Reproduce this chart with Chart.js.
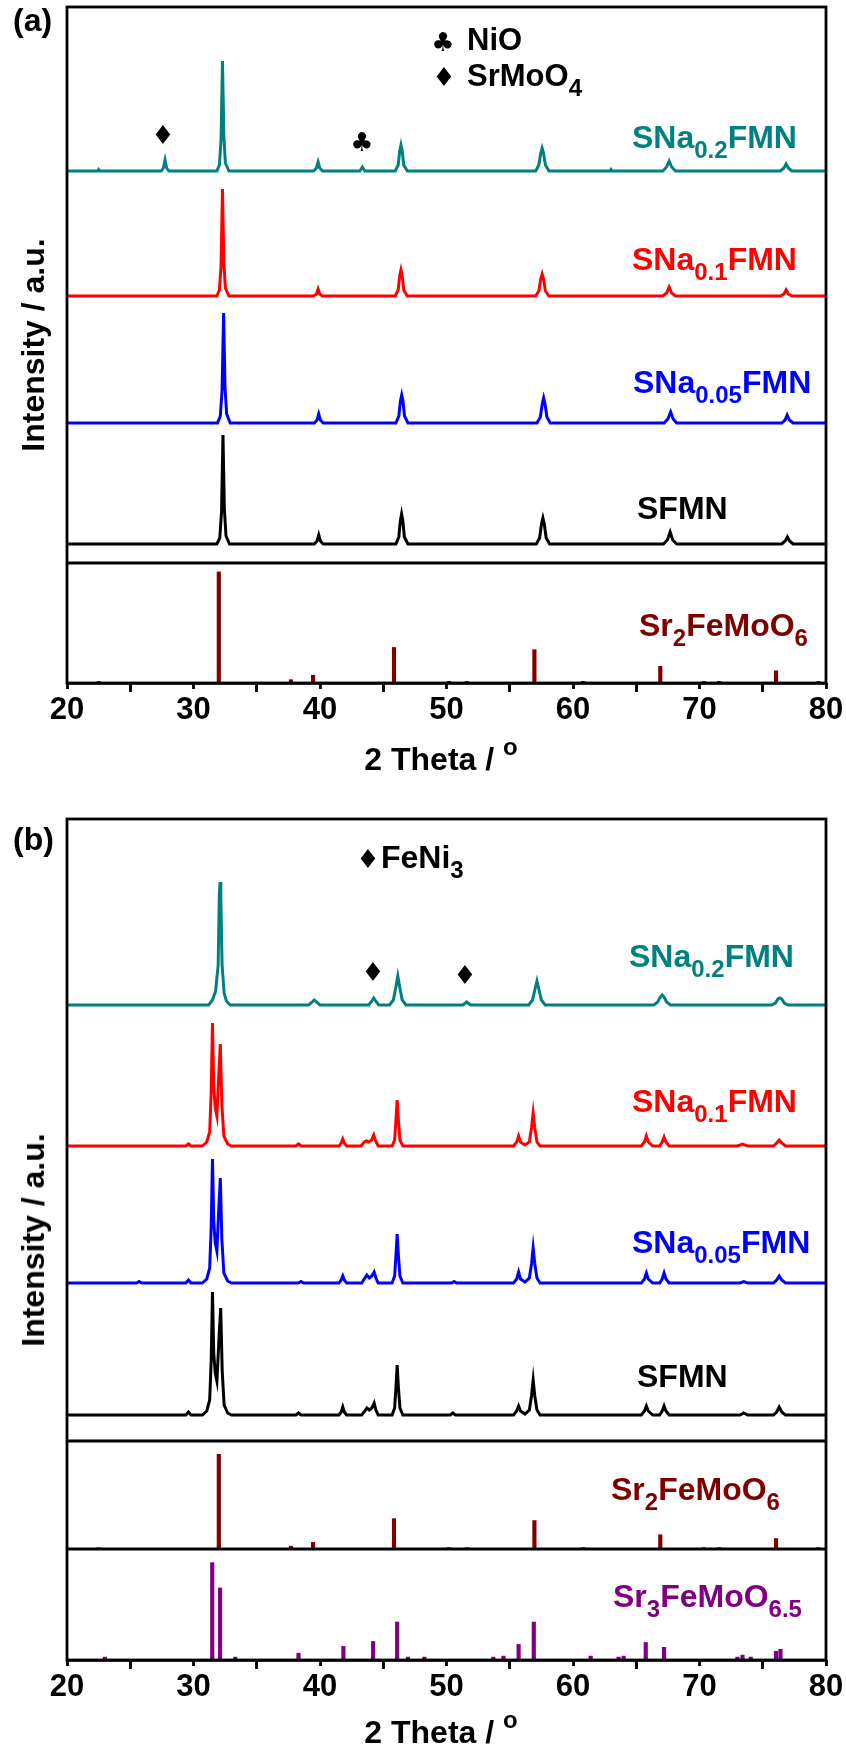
<!DOCTYPE html>
<html>
<head>
<meta charset="utf-8">
<script src="https://cdn.jsdelivr.net/npm/chart.js@4.4.1/dist/chart.umd.min.js"></script>
<style>
  html, body { margin:0; padding:0; background:#fff; }
  #wrap { position:relative; width:846px; height:1751px; background:#fff; overflow:hidden; }
  .cv { position:absolute; left:0; }
  .t { position:absolute; font-family:'Liberation Sans', Arial, sans-serif; font-weight:bold; font-size:32px; line-height:1; white-space:nowrap; z-index:2; }
  .t sub { font-size:24px; vertical-align:baseline; position:relative; top:10px; }
  .t sup { font-size:24px; vertical-align:baseline; position:relative; top:-15px; }
  .g { position:absolute; font-family:'DejaVu Sans', sans-serif; line-height:1; width:40px; text-align:center; z-index:2; color:#000; }
</style>
</head>
<body>
<div id="wrap">
  <canvas id="ca" class="cv" width="846" height="780" style="top:0;width:846px;height:780px"></canvas>
  <canvas id="cb" class="cv" width="846" height="971" style="top:780px;width:846px;height:971px"></canvas>

  <!-- panel (a) texts -->
  <div class="t" style="left:13px;top:4px">(a)</div>
  <div class="g" style="left:423px;top:29px;font-size:26px">&#9827;</div>
  <div class="t" style="left:467px;top:24px;font-size:31px">NiO</div>
  <div class="g" style="left:424px;top:64px;font-size:26px">&#9830;</div>
  <div class="t" style="left:467px;top:60px;font-size:31px">SrMoO<sub>4</sub></div>
  <div class="g" style="left:143px;top:122px;font-size:26px">&#9830;</div>
  <div class="g" style="left:342px;top:129px;font-size:26px">&#9827;</div>
  <div class="t" style="left:632px;top:121px;color:#008080">SNa<sub>0.2</sub>FMN</div>
  <div class="t" style="left:632px;top:243px;color:#ff0000">SNa<sub>0.1</sub>FMN</div>
  <div class="t" style="left:633px;top:366px;color:#0000ff">SNa<sub>0.05</sub>FMN</div>
  <div class="t" style="left:637px;top:492px;color:#000">SFMN</div>
  <div class="t" style="left:639px;top:609px;color:#800000">Sr<sub>2</sub>FeMoO<sub>6</sub></div>
  <div class="t" style="left:33px;top:345px;transform:translate(-50%,-50%) rotate(-90deg)">Intensity / a.u.</div>
  <div class="t" style="left:341px;width:200px;text-align:center;top:743px">2 Theta / <sup>o</sup></div>

  <!-- panel (b) texts -->
  <div class="t" style="left:13px;top:823px">(b)</div>
  <div class="g" style="left:348px;top:846px;font-size:26px">&#9830;</div>
  <div class="t" style="left:381px;top:841px">FeNi<sub>3</sub></div>
  <div class="g" style="left:353px;top:959px;font-size:26px">&#9830;</div>
  <div class="g" style="left:445px;top:962px;font-size:26px">&#9830;</div>
  <div class="t" style="left:629px;top:940px;color:#008080">SNa<sub>0.2</sub>FMN</div>
  <div class="t" style="left:632px;top:1085px;color:#ff0000">SNa<sub>0.1</sub>FMN</div>
  <div class="t" style="left:632px;top:1226px;color:#0000ff">SNa<sub>0.05</sub>FMN</div>
  <div class="t" style="left:637px;top:1360px;color:#000">SFMN</div>
  <div class="t" style="left:611px;top:1473px;color:#800000">Sr<sub>2</sub>FeMoO<sub>6</sub></div>
  <div class="t" style="left:613px;top:1580px;color:#800080">Sr<sub>3</sub>FeMoO<sub>6.5</sub></div>
  <div class="t" style="left:33px;top:1240px;transform:translate(-50%,-50%) rotate(-90deg)">Intensity / a.u.</div>
  <div class="t" style="left:341px;width:200px;text-align:center;top:1716px">2 Theta / <sup>o</sup></div>
</div>

<script>
// ---------------- DATA (2 theta in degrees, intensity in a.u.) ----------------
const xTicks = [20, 30, 40, 50, 60, 70, 80];

// Panel (a): as-prepared samples
const aSNa02 = [[20,0],[22.42,0],[22.5,1.5],[22.58,0],[27.45,0],[27.62,3],[27.75,11],[27.88,3],[28.05,0],[31.85,0],[32.05,6],[32.18,32],[32.29,110],[32.4,35],[32.52,8],[32.8,0],[39.5,0],[39.72,3],[39.85,9],[39.98,3],[40.2,0],[43.15,0],[43.35,4],[43.55,0],[45.95,0],[46.18,6],[46.3,20],[46.4,26],[46.5,20],[46.62,6],[46.9,0],[57.05,0],[57.3,6],[57.45,18],[57.56,23],[57.67,18],[57.82,6],[58.1,0],[62.92,0],[63.0,1.5],[63.08,0],[67.1,0],[67.4,4],[67.6,10],[67.8,4],[68.1,0],[76.4,0],[76.68,3],[76.85,7],[77.02,3],[77.3,0],[80,0]];
const aSNa01 = [[20,0],[31.85,0],[32.05,6],[32.18,30],[32.29,107],[32.4,33],[32.52,8],[32.8,0],[39.5,0],[39.72,2],[39.85,7],[39.98,2],[40.2,0],[45.95,0],[46.18,6],[46.3,20],[46.4,26],[46.5,20],[46.62,6],[46.9,0],[57.05,0],[57.3,5],[57.45,17],[57.56,22],[57.67,17],[57.82,5],[58.1,0],[67.1,0],[67.4,3],[67.6,9],[67.8,3],[68.1,0],[76.4,0],[76.68,2],[76.85,6],[77.02,2],[77.3,0],[80,0]];
const aSNa005 = [[20,0],[31.9,0],[32.12,7],[32.26,33],[32.38,110],[32.49,36],[32.62,9],[32.9,0],[39.55,0],[39.77,3],[39.9,9],[40.03,3],[40.25,0],[46.0,0],[46.23,7],[46.36,22],[46.46,28],[46.56,22],[46.68,7],[46.95,0],[57.15,0],[57.42,6],[57.57,19],[57.68,25],[57.79,19],[57.94,6],[58.2,0],[67.2,0],[67.5,4],[67.72,11],[67.92,4],[68.2,0],[76.5,0],[76.76,3],[76.93,8],[77.1,3],[77.4,0],[80,0]];
const aSFMN = [[20,0],[31.85,0],[32.08,6],[32.22,33],[32.33,109],[32.44,35],[32.57,8],[32.85,0],[39.55,0],[39.77,3],[39.9,9],[40.03,3],[40.25,0],[46.0,0],[46.23,7],[46.35,23],[46.45,30],[46.55,23],[46.67,7],[46.95,0],[57.1,0],[57.36,6],[57.51,20],[57.62,26],[57.73,20],[57.88,6],[58.15,0],[67.15,0],[67.46,4],[67.68,12],[67.88,4],[68.2,0],[76.5,0],[76.78,3],[76.95,7],[77.12,3],[77.4,0],[80,0]];

// Reference pattern Sr2FeMoO6 (relative intensity, %)
const sfmoX = [22.5, 32.0, 37.7, 39.45, 45.85, 50.2, 51.6, 56.95, 60.8, 66.9, 70.35, 71.55, 76.05, 79.4];
const sfmoI = [1.5, 100, 3, 7, 32, 1.5, 1.5, 30, 1.5, 15, 1.5, 1.5, 11, 1.5];

// Panel (b): reduced samples
const bSNa02 = [[20,0],[31.2,0],[31.5,5],[31.75,14],[31.95,40],[32.04,110],[32.1,123],[32.16,108],[32.26,40],[32.42,12],[32.6,4],[32.9,0],[39.1,0],[39.38,3],[39.55,5],[39.72,3],[40.0,0],[43.85,0],[44.1,4],[44.25,7],[44.4,4],[44.65,0],[45.5,0],[45.8,5],[46.0,18],[46.15,29],[46.3,18],[46.5,5],[46.8,0],[51.3,0],[51.6,3],[51.9,0],[56.5,0],[56.8,5],[57.0,16],[57.15,24],[57.3,16],[57.5,5],[57.8,0],[66.4,0],[66.7,3],[66.9,8],[67.05,10],[67.2,8],[67.4,3],[67.7,0],[75.7,0],[76.0,2],[76.2,6],[76.35,7],[76.5,6],[76.7,2],[77.0,0],[80,0]];
const bSNa01 = [[20,0],[29.4,0],[29.6,2],[29.8,0],[30.7,0],[31.05,4],[31.28,14],[31.4,55],[31.5,123],[31.6,60],[31.72,38],[31.85,30],[32.0,72],[32.12,102],[32.24,42],[32.4,10],[32.7,2],[33.0,0],[38.1,0],[38.3,2],[38.5,0],[41.5,0],[41.68,3],[41.8,7],[41.92,3],[42.1,0],[43.25,0],[43.5,4],[43.65,5],[43.85,4],[44.08,6],[44.25,11],[44.4,5],[44.6,0],[45.7,0],[45.9,6],[46.0,25],[46.1,46],[46.2,25],[46.32,6],[46.55,0],[55.3,0],[55.55,4],[55.7,10],[55.85,4],[56.2,1],[56.55,4],[56.72,18],[56.85,33],[56.98,18],[57.15,4],[57.4,0],[65.4,0],[65.65,4],[65.8,10],[65.95,4],[66.3,0],[66.85,0],[67.05,4],[67.2,9],[67.35,4],[67.6,0],[73.0,0],[73.4,2],[73.8,0],[75.85,0],[76.1,3],[76.3,6],[76.5,3],[76.8,0],[80,0]];
const bSNa005 = [[20,0],[25.5,0],[25.7,1.5],[25.9,0],[29.4,0],[29.6,3],[29.8,0],[30.7,0],[31.05,4],[31.28,15],[31.4,56],[31.5,124],[31.6,62],[31.72,40],[31.85,32],[32.0,75],[32.12,105],[32.24,44],[32.4,10],[32.7,2],[33.0,0],[38.3,0],[38.5,1.5],[38.7,0],[41.5,0],[41.68,3],[41.8,7],[41.92,3],[42.1,0],[43.3,0],[43.55,5],[43.7,8],[43.9,5],[44.1,7],[44.28,11],[44.42,5],[44.6,0],[45.7,0],[45.9,7],[46.0,27],[46.1,49],[46.2,27],[46.32,7],[46.55,0],[50.4,0],[50.6,1.5],[50.8,0],[55.3,0],[55.55,4],[55.7,11],[55.85,4],[56.2,1],[56.55,5],[56.72,19],[56.85,35],[56.98,19],[57.15,5],[57.4,0],[65.4,0],[65.65,4],[65.8,10],[65.95,4],[66.3,0],[66.85,0],[67.05,4],[67.2,10],[67.35,4],[67.6,0],[73.2,0],[73.5,1.5],[73.8,0],[75.85,0],[76.1,3],[76.3,7],[76.5,3],[76.8,0],[80,0]];
const bSFMN = [[20,0],[29.4,0],[29.6,3],[29.8,0],[30.7,0],[31.05,4],[31.28,15],[31.4,55],[31.5,123],[31.6,62],[31.72,42],[31.85,34],[32.02,78],[32.15,107],[32.27,44],[32.42,10],[32.7,2],[33.0,0],[38.1,0],[38.3,2],[38.5,0],[41.5,0],[41.68,3],[41.8,8],[41.92,3],[42.1,0],[43.3,0],[43.55,4],[43.7,7],[43.9,5],[44.1,7],[44.28,12],[44.42,5],[44.6,0],[45.7,0],[45.9,7],[46.0,27],[46.1,50],[46.2,27],[46.32,7],[46.55,0],[50.3,0],[50.5,2],[50.7,0],[55.3,0],[55.55,4],[55.7,9],[55.85,4],[56.2,1],[56.55,5],[56.72,19],[56.85,35],[56.98,19],[57.15,5],[57.4,0],[65.4,0],[65.65,4],[65.8,9],[65.95,4],[66.3,0],[66.85,0],[67.05,4],[67.2,9],[67.35,4],[67.6,0],[73.2,0],[73.5,2],[73.8,0],[75.85,0],[76.1,3],[76.3,8],[76.5,3],[76.8,0],[80,0]];

// Reference pattern Sr3FeMoO6.5 (relative intensity, %)
const s3fmoX = [23.0, 31.48, 32.1, 33.3, 38.3, 41.85, 44.2, 46.1, 46.95, 48.25, 53.7, 54.5, 55.7, 56.9, 61.4, 63.6, 64.0, 65.75, 67.2, 73.0, 73.4, 74.05, 76.05, 76.4];
const s3fmoI = [3, 100, 74, 3, 7, 14, 19, 39, 3, 3, 3, 4, 16, 39, 4, 3, 4, 18, 13, 3, 5, 3, 9, 11];

// ---------------- STYLE / LAYOUT ----------------
const FONT = "'Liberation Sans', Arial, sans-serif";
const COLORS = { teal:'#008080', red:'#ff0000', blue:'#0000ff', black:'#000000', maroon:'#800000', purple:'#800080' };

function linePts(pairs, offset) { return pairs.map(p => ({ x: p[0], y: p[1] + offset })); }
function stickPts(xs, is) { return xs.map((x, i) => ({ x: x, y: is[i] })); }

function lineDs(label, pairs, offset, color, yId) {
  return { type:'line', label, data: linePts(pairs, offset), borderColor: color, backgroundColor: color,
           borderWidth: 3, pointRadius: 0, tension: 0, fill: false, yAxisID: yId, xAxisID: 'x', order: 1 };
}
function barDs(label, xs, is, color, yId) {
  return { type:'bar', label, data: stickPts(xs, is), backgroundColor: color, borderWidth: 0,
           barThickness: 3.5, grouped: false, yAxisID: yId, xAxisID: 'x', order: 2 };
}

const framePlugin = {
  id: 'frame',
  afterDatasetsDraw(chart) {
    const { ctx, chartArea: a } = chart;
    ctx.save();
    ctx.strokeStyle = '#000';
    ctx.lineWidth = 2.8;
    ctx.strokeRect(a.left, a.top, a.right - a.left, a.bottom - a.top);
    Object.values(chart.scales).forEach(s => {
      if (s.axis === 'y' && s.bottom < a.bottom - 2) {
        ctx.beginPath(); ctx.moveTo(a.left, s.bottom); ctx.lineTo(a.right, s.bottom); ctx.stroke();
      }
    });
    ctx.restore();
  }
};

function yScale(max, weight) {
  return { type:'linear', position:'left', stack:'p', stackWeight: weight, min:0, max: max, offset:false,
           ticks:{ display:false }, grid:{ display:false }, border:{ display:false },
           afterFit: s => { s.width = 67; } };
}
// stacked y axes: the first one listed is placed at the bottom of the stack
function buildScales(axisHeight, yAxes) {
  const sc = {
    x: { type:'linear', position:'bottom', min:20, max:80, offset:false, weight: 1,
         afterBuildTicks: s => { s.ticks = xTicks.map(v => ({ value: v })); },
         ticks: { color:'#000', padding:0, autoSkip:false, maxRotation:0, font:{ family:FONT, size:31, weight:'bold' } },
         grid: { drawOnChartArea:false, drawTicks:true, tickLength:9, tickWidth:2.8, tickColor:'#000' },
         border: { display:true, color:'#000', width:2.8 },
         afterFit: s => { s.height = axisHeight; } },
    xMinor: { type:'linear', position:'bottom', min:20, max:80, offset:false, weight: 0,
         ticks: { display:false, stepSize:5 },
         grid: { drawOnChartArea:false, drawTicks:true, tickLength:6, tickWidth:2.8, tickColor:'#000' },
         border: { display:false },
         afterFit: s => { s.height = 0; } }
  };
  yAxes.forEach(([id, max, w]) => { sc[id] = yScale(max, w); });
  return sc;
}

const commonOpts = {
  responsive:false, animation:false, devicePixelRatio:1,
  plugins:{ legend:{ display:false }, tooltip:{ enabled:false }, title:{ display:false } },
  events: []
};

// Panel (a)
new Chart(document.getElementById('ca'), {
  type:'line',
  data:{ datasets:[
    lineDs('SNa0.2FMN', aSNa02, 392, COLORS.teal, 'y'),
    lineDs('SNa0.1FMN', aSNa01, 267, COLORS.red, 'y'),
    lineDs('SNa0.05FMN', aSNa005, 140, COLORS.blue, 'y'),
    lineDs('SFMN', aSFMN, 19, COLORS.black, 'y'),
    barDs('Sr2FeMoO6', sfmoX, sfmoI, COLORS.maroon, 'yr')
  ]},
  options: Object.assign({}, commonOpts, {
    layout:{ padding:{ left:0, right:20, top:7, bottom:0 } },
    scales: buildScales(97, [['yr', 108, 120], ['y', 556, 556]])
  }),
  plugins:[framePlugin]
});

// Panel (b)
new Chart(document.getElementById('cb'), {
  type:'line',
  data:{ datasets:[
    lineDs('SNa0.2FMN', bSNa02, 436, COLORS.teal, 'y'),
    lineDs('SNa0.1FMN', bSNa01, 295, COLORS.red, 'y'),
    lineDs('SNa0.05FMN', bSNa005, 158, COLORS.blue, 'y'),
    lineDs('SFMN', bSFMN, 26, COLORS.black, 'y'),
    barDs('Sr2FeMoO6', sfmoX, sfmoI, COLORS.maroon, 'yr1'),
    barDs('Sr3FeMoO6.5', s3fmoX, s3fmoI, COLORS.purple, 'yr2')
  ]},
  options: Object.assign({}, commonOpts, {
    layout:{ padding:{ left:0, right:20, top:39, bottom:0 } },
    scales: buildScales(91, [['yr2', 114, 111], ['yr1', 114, 108], ['y', 622, 622]])
  }),
  plugins:[framePlugin]
});
</script>
</body>
</html>
